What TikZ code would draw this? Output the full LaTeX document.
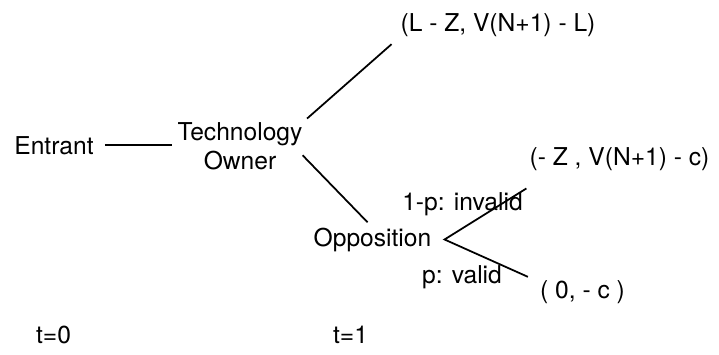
\documentclass[tikz,border=0pt]{standalone}
\usepackage{fontspec}
\setmainfont{TeX Gyre Heros}
\usetikzlibrary{calc}

\tikzset{
  lbl/.style={inner sep=0pt, anchor=base, font=\fontsize{21}{25}\selectfont},
  branch/.style={line width=1.5pt},
}

\begin{document}
\begin{tikzpicture}[x=0.03cm, y=-0.03cm]
 \useasboundingbox (0,0) rectangle (719,354);

    %Players
    \node[lbl] (entrant) at (54,154) {Entrant};
    \node[lbl, anchor=center, align=center] (owner) at (240,146.5) {Technology\\Owner};
    \node[lbl] (opp) at (372.5,246) {Opposition};
    \coordinate (chance) at ($(opp.east)+(13,0)$);

    % Payoffs
    \node[lbl] (license) at (498,31) {(L - Z, V(N+1) - L)};
    \node[lbl] (invalid) at (619.5,165) {(- Z , V(N+1) - c)};
    \node[lbl] (valid) at (582.5,298) {( 0, - c )};
    \coordinate (invend) at ($(invalid.south west)+(-3,18)$);
    \coordinate (valend) at ($(valid.north west)+(-12,-3)$);

    % Branches
    \draw[branch, shorten <=9.4pt, shorten >=4.3pt] (entrant.east) -- (entrant.east -| owner.west);
    \draw[branch, shorten <=5pt, shorten >=10pt] (owner.north east) -- (license.south west);
    \draw[branch, shorten >=6pt] (owner.-8) -- (opp.north);
    \draw[branch] (invend) -- (chance) -- (valend);

    % probabilities
    \node[lbl] (pinv) at (462.5,210) {1-p: invalid};
    \node[lbl] (pval) at (462,283) {p: valid};

    % time
    \node[lbl] (t0) at (53.5,343) {t=0};
    \node[lbl] (t1) at (350.5,343) {t=1};
\end{tikzpicture}
\end{document}
